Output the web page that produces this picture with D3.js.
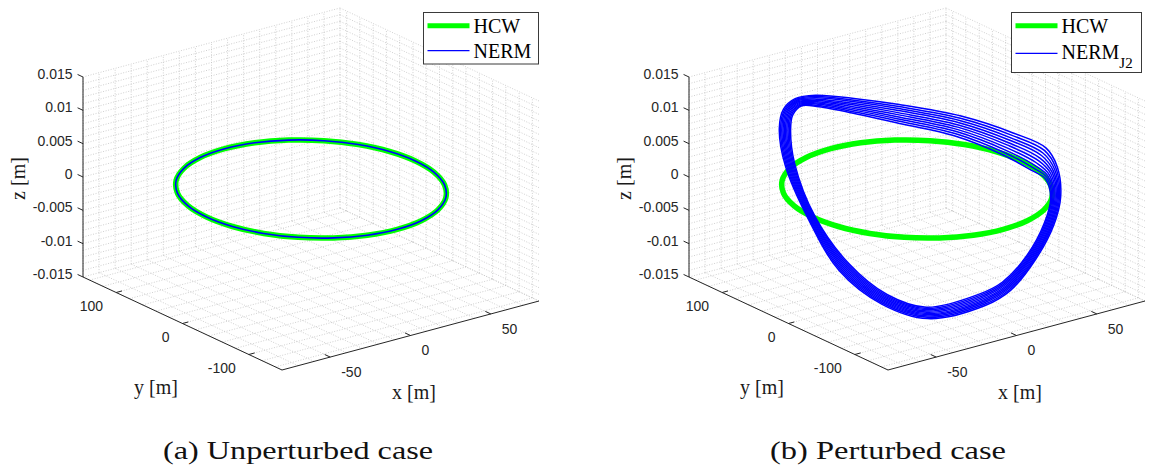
<!DOCTYPE html>
<html>
<head>
<meta charset="utf-8">
<script src="https://cdn.jsdelivr.net/npm/d3@7"></script>
<style>
  html, body { margin: 0; padding: 0; background: #ffffff; }
  svg { display: block; }
</style>
</head>
<body>
<svg id="fig" width="1149" height="473"></svg>
<script>
// ---- axis limits and ticks (same for both panels) ----
const xLimits = [-80, 80];
const yLimits = [-150, 150];
const zLimits = [-0.015, 0.015];
const xTicks = [-50, 0, 50];
const xTickLabels = ["-50", "0", "50"];
const yTicks = [-100, 0, 100];
const yTickLabels = ["-100", "0", "100"];
const zTicks = [-0.015, -0.01, -0.005, 0, 0.005, 0.01, 0.015];
const zTickLabels = ["-0.015", "-0.01", "-0.005", "0", "0.005", "0.01", "0.015"];
const xMinorStep = 10, yMinorStep = 20, zMinorStep = 0.001;

// ---- HCW relative orbit (one revolution, planar) ----
const hcwX = [65, 62.8, 56.3, 46.0, 32.5, 16.8, 0, -16.8, -32.5, -46.0, -56.3, -62.8,
              -65, -62.8, -56.3, -46.0, -32.5, -16.8, 0, 16.8, 32.5, 46.0, 56.3, 62.8];
const hcwY = [0, -33.6, -65.0, -91.9, -112.6, -125.6, -130, -125.6, -112.6, -91.9, -65.0, -33.6,
              0, 33.6, 65.0, 91.9, 112.6, 125.6, 130, 125.6, 112.6, 91.9, 65.0, 33.6];
const hcwZ = [0, 0, 0, 0, 0, 0, 0, 0, 0, 0, 0, 0, 0, 0, 0, 0, 0, 0, 0, 0, 0, 0, 0, 0];

// ---- NERM, unperturbed: coincides with the HCW orbit ----
const nermX = hcwX.slice();
const nermY = hcwY.slice();
const nermZ = hcwZ.slice();

// ---- NERM with J2: mid revolution of the propagated arc ----
const nermJ2X = [63.8, 58.9, 50.7, 37.3, 17.4, 0, -14.1, -38.9, -53.2, -62.4,
                 -64.9, -59.4, -50.7, -40.0, -27.0, -11.3, 13.6, 32.5, 53.7, 64.0];
const nermJ2Y = [-29.8, -59.9, -86.3, -108.8, -130.3, -135, -131.9, -109.1, -79.6, -41.5,
                 1.6, 47.7, 76.3, 97.4, 113.3, 123.0, 122.1, 107.6, 68.2, 17.6];
const nermJ2Z = [0.0017, 0.0014, -0.0005, -0.0026, -0.0053, -0.0083, -0.0096, -0.0110, -0.0094, -0.0058,
                 -0.0002, 0.0053, 0.0087, 0.0096, 0.0095, 0.0082, 0.0058, 0.0042, 0.0028, 0.0018];
// change of each point between the first and the last revolution
const nermJ2SpreadY = [-20, -18, -15, -14, -13, -12, -10, -2, 8, 15,
                       10, 14, 17, 14, 10, 5, 0, -4, -9, -15];
const nermJ2SpreadZ = [0.0044, 0.0026, 0.0008, 0.0003, 0.0000, -0.0007, -0.0012, -0.0016, -0.0018, -0.0017,
                       -0.0009, -0.0010, -0.0006, 0.0002, 0.0006, 0.0015, 0.0023, 0.0029, 0.0034, 0.0040];
const nermJ2Revolutions = 10;

// ---- styling ----
const GREEN = "#00ff00", BLUE = "#0000ff", AXIS = "#262626";
const SANS = "'Liberation Sans', Arial, Helvetica, sans-serif";
const SERIF = "'Liberation Serif', 'Times New Roman', serif";

const svg = d3.select("#fig");

// normalised box coordinates
const xS = d3.scaleLinear().domain(xLimits).range([0, 1]);
const yS = d3.scaleLinear().domain(yLimits).range([0, 1]);
const zS = d3.scaleLinear().domain(zLimits).range([0, 1]);

// orthographic view of the plot box (MATLAB default azimuth/elevation)
const corner = [282, 370];          // (xmin, ymin, zmin) on screen
const ex = [257, -69];              // full x extent
const ey = [-199, -93];             // full y extent
const ez = [0, -200];               // full z extent

function makeProjection(offsetX) {
  return (x, y, z) => {
    const u = xS(x), v = yS(y), w = zS(z);
    return [corner[0] + offsetX + u * ex[0] + v * ey[0] + w * ez[0],
            corner[1] + u * ex[1] + v * ey[1] + w * ez[1]];
  };
}

function unit(v) { const l = Math.hypot(v[0], v[1]); return [v[0] / l, v[1] / l]; }
const exDir = unit(ex), eyDir = unit(ey);

function drawPanel(offsetX, opts) {
  const P = makeProjection(offsetX);
  const g = svg.append("g");

  // ---- grid on the three back planes ----
  const gridG = g.append("g").attr("fill", "none");
  const xMinor = d3.range(xLimits[0], xLimits[1] + 1e-9, xMinorStep);
  const yMinor = d3.range(-140, yLimits[1] + 1e-9, yMinorStep);
  const zMinor = d3.range(0, 31).map(i => +(zLimits[0] + i * zMinorStep).toFixed(4));
  const segs = [];
  // back wall y = ymax
  xMinor.forEach(x => segs.push([P(x, yLimits[1], zLimits[0]), P(x, yLimits[1], zLimits[1])]));
  zMinor.forEach(z => segs.push([P(xLimits[0], yLimits[1], z), P(xLimits[1], yLimits[1], z)]));
  // side wall x = xmax
  yMinor.forEach(y => segs.push([P(xLimits[1], y, zLimits[0]), P(xLimits[1], y, zLimits[1])]));
  zMinor.forEach(z => segs.push([P(xLimits[1], yLimits[0], z), P(xLimits[1], yLimits[1], z)]));
  // floor z = zmin
  xMinor.forEach(x => segs.push([P(x, yLimits[0], zLimits[0]), P(x, yLimits[1], zLimits[0])]));
  yMinor.forEach(y => segs.push([P(xLimits[0], y, zLimits[0]), P(xLimits[1], y, zLimits[0])]));
  gridG.selectAll("line").data(segs).join("line")
    .attr("x1", d => d[0][0]).attr("y1", d => d[0][1])
    .attr("x2", d => d[1][0]).attr("y2", d => d[1][1])
    .attr("stroke", "#c4c4c4").attr("stroke-width", 0.8)
    .attr("stroke-dasharray", "1 1.6");

  // ---- axis lines ----
  const axG = g.append("g").attr("stroke", AXIS).attr("stroke-width", 1).attr("fill", "none");
  const zA0 = P(xLimits[0], yLimits[1], zLimits[0]), zA1 = P(xLimits[0], yLimits[1], zLimits[1]);
  const yA0 = P(xLimits[0], yLimits[1], zLimits[0]), yA1 = P(xLimits[0], yLimits[0], zLimits[0]);
  const xA0 = P(xLimits[0], yLimits[0], zLimits[0]), xA1 = P(xLimits[1], yLimits[0], zLimits[0]);
  [[zA0, zA1], [yA0, yA1], [xA0, xA1]].forEach(s =>
    axG.append("line").attr("x1", s[0][0]).attr("y1", s[0][1]).attr("x2", s[1][0]).attr("y2", s[1][1]));

  const TL = 6;
  const txt = g.append("g").attr("font-family", SANS).attr("font-size", 14).attr("fill", AXIS);
  // z ticks
  zTicks.forEach((z, i) => {
    const p = P(xLimits[0], yLimits[1], z);
    const e = [p[0] + eyDir[0] * TL, p[1] + eyDir[1] * TL];
    axG.append("line").attr("x1", p[0]).attr("y1", p[1]).attr("x2", e[0]).attr("y2", e[1]);
    txt.append("text").attr("x", e[0] - 5).attr("y", e[1] - 0.5).attr("dy", "0.35em")
      .attr("text-anchor", "end").text(zTickLabels[i]);
  });
  // y ticks
  yTicks.forEach((y, i) => {
    const p = P(xLimits[0], y, zLimits[0]);
    const e = [p[0] + exDir[0] * TL, p[1] + exDir[1] * TL];
    axG.append("line").attr("x1", p[0]).attr("y1", p[1]).attr("x2", e[0]).attr("y2", e[1]);
    txt.append("text").attr("x", p[0] - 13).attr("y", p[1] + 14).attr("dy", "0.35em")
      .attr("text-anchor", "end").text(yTickLabels[i]);
  });
  // x ticks
  xTicks.forEach((x, i) => {
    const p = P(x, yLimits[0], zLimits[0]);
    const e = [p[0] + eyDir[0] * TL, p[1] + eyDir[1] * TL];
    axG.append("line").attr("x1", p[0]).attr("y1", p[1]).attr("x2", e[0]).attr("y2", e[1]);
    txt.append("text").attr("x", p[0] + 11).attr("y", p[1] + 15).attr("dy", "0.35em")
      .attr("text-anchor", "start").text(xTickLabels[i]);
  });

  // axis labels
  const lab = g.append("g").attr("font-family", SERIF).attr("font-size", 20).attr("fill", "#1a1a1a")
    .attr("text-anchor", "middle");
  lab.append("text").attr("transform", `translate(${18 + offsetX},178.5) rotate(-90)`)
    .attr("dy", "0.35em").text("z [m]");
  lab.append("text").attr("x", 156 + offsetX).attr("y", 387).attr("dy", "0.35em").text("y [m]");
  lab.append("text").attr("x", 414 + offsetX).attr("y", 392).attr("dy", "0.35em").text("x [m]");

  // ---- trajectories ----
  const loop = d3.line().curve(d3.curveCatmullRomClosed.alpha(0.5));
  const hcwPts = hcwX.map((x, i) => P(x, hcwY[i], hcwZ[i]));
  g.append("path").attr("d", loop(hcwPts)).attr("fill", "none")
    .attr("stroke", GREEN).attr("stroke-width", 5.5).attr("stroke-linejoin", "round");

  if (!opts.perturbed) {
    const pts = nermX.map((x, i) => P(x, nermY[i], nermZ[i]));
    g.append("path").attr("d", loop(pts)).attr("fill", "none")
      .attr("stroke", BLUE).attr("stroke-width", 1.6);
  } else {
    const revs = d3.range(nermJ2Revolutions);
    g.append("g").selectAll("path").data(revs).join("path")
      .attr("d", r => {
        const f = r / (nermJ2Revolutions - 1) - 0.5;
        return loop(nermJ2X.map((x, i) =>
          P(x, nermJ2Y[i] + f * nermJ2SpreadY[i], nermJ2Z[i] + f * nermJ2SpreadZ[i])));
      })
      .attr("fill", "none").attr("stroke", BLUE).attr("stroke-width", 1.5);
  }

  // ---- legend ----
  const L = opts.legend;
  const lg = g.append("g");
  lg.append("rect").attr("x", L.x).attr("y", L.y).attr("width", L.w).attr("height", L.h)
    .attr("fill", "#ffffff").attr("stroke", "#3a3a3a").attr("stroke-width", 1);
  lg.append("line").attr("x1", L.x + 4).attr("x2", L.x + 46).attr("y1", 25.7).attr("y2", 25.7)
    .attr("stroke", GREEN).attr("stroke-width", 5);
  lg.append("line").attr("x1", L.x + 4).attr("x2", L.x + 46).attr("y1", L.blueY).attr("y2", L.blueY)
    .attr("stroke", BLUE).attr("stroke-width", 1.3);
  const lt = lg.append("g").attr("font-family", SERIF).attr("font-size", 20).attr("fill", "#000");
  lt.append("text").attr("x", L.x + 50).attr("y", 33.3).text("HCW");
  const t2 = lt.append("text").attr("x", L.x + 50).attr("y", L.textY).text("NERM");
  if (opts.perturbed) {
    t2.append("tspan").attr("font-size", 15).attr("dy", 9).text("J2");
  }

  // ---- caption ----
  svg.append("text").attr("x", opts.caption.x).attr("y", 459)
    .attr("font-family", SERIF).attr("font-size", 25).attr("fill", "#111")
    .attr("textLength", opts.caption.len).attr("lengthAdjust", "spacingAndGlyphs")
    .text(opts.caption.text);
}

drawPanel(0, {
  perturbed: false,
  legend: { x: 423.5, y: 12.5, w: 115, h: 51.5, blueY: 50.7, textY: 58.3 },
  caption: { x: 163, len: 270, text: "(a) Unperturbed case" }
});
drawPanel(606, {
  perturbed: true,
  legend: { x: 1011.5, y: 12.5, w: 130, h: 60, blueY: 53.3, textY: 59 },
  caption: { x: 770, len: 236, text: "(b) Perturbed case" }
});
</script>
</body>
</html>
